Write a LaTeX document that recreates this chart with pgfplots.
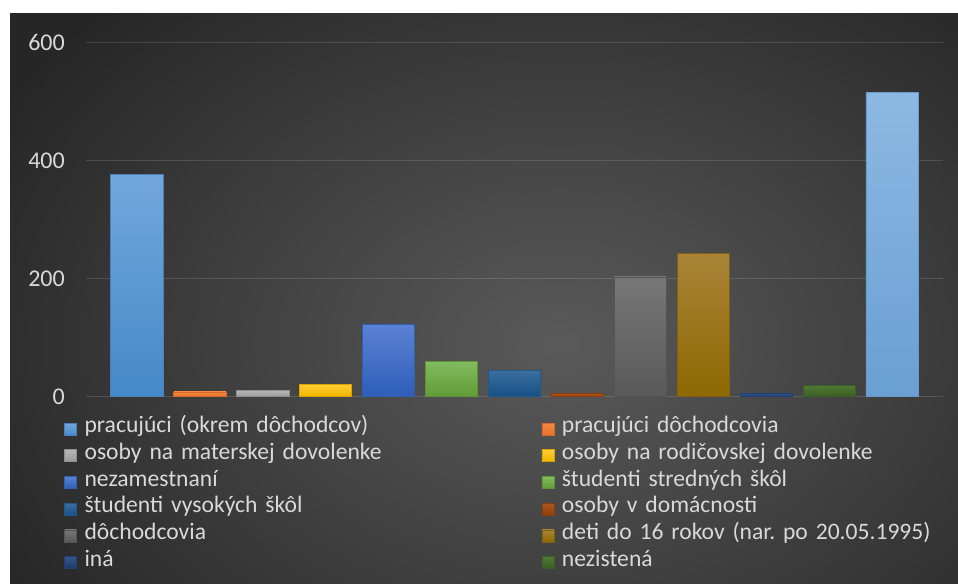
\documentclass[border=0pt]{standalone}
\usepackage{fontspec}
\setmainfont{Carlito}
\usepackage{pgfplots}
\pgfplotsset{compat=1.18}
\frenchspacing

\definecolor{txt}{HTML}{D9D9D9}
\definecolor{bgin}{HTML}{5A5A5A}
\definecolor{bgout}{HTML}{262626}

% top, bottom, border for each series
\definecolor{t1}{HTML}{72A7DC}\definecolor{b1}{HTML}{4589C8}\definecolor{d1}{HTML}{4A80B8}
\definecolor{t2}{HTML}{F3883F}\definecolor{b2}{HTML}{E5722A}\definecolor{d2}{HTML}{D8692A}
\definecolor{t3}{HTML}{B5B5B5}\definecolor{b3}{HTML}{999999}\definecolor{d3}{HTML}{8E8E8E}
\definecolor{t4}{HTML}{FFCC33}\definecolor{b4}{HTML}{F0B400}\definecolor{d4}{HTML}{D9A400}
\definecolor{t5}{HTML}{5A82D4}\definecolor{b5}{HTML}{2E5EB8}\definecolor{d5}{HTML}{3060B0}
\definecolor{t6}{HTML}{83BB5F}\definecolor{b6}{HTML}{5F9C35}\definecolor{d6}{HTML}{5E9436}
\definecolor{t7}{HTML}{3A6FA0}\definecolor{b7}{HTML}{174F85}\definecolor{d7}{HTML}{23588A}
\definecolor{t8}{HTML}{B05520}\definecolor{b8}{HTML}{8F3E08}\definecolor{d8}{HTML}{8A3E10}
\definecolor{t9}{HTML}{777777}\definecolor{b9}{HTML}{595959}\definecolor{d9}{HTML}{555555}
\definecolor{t10}{HTML}{AA8438}\definecolor{b10}{HTML}{8E6800}\definecolor{d10}{HTML}{7E6010}
\definecolor{t11}{HTML}{34558C}\definecolor{b11}{HTML}{1D3A6B}\definecolor{d11}{HTML}{22406F}
\definecolor{t12}{HTML}{4F7A34}\definecolor{b12}{HTML}{3A5C24}\definecolor{d12}{HTML}{3A5C28}
\definecolor{t13}{HTML}{8BB9E3}\definecolor{b13}{HTML}{6A9FD3}\definecolor{d13}{HTML}{6A98C8}

\pgfplotsset{
  bar/.style={ybar, bar shift=0pt, top color=t#1, bottom color=b#1, draw=d#1, line width=0.8bp},
}

\begin{document}
\begin{tikzpicture}
\useasboundingbox (0,0) rectangle (958bp,584bp);
\fill[white] (0,0) rectangle (958bp,584bp);
\begin{scope}
  \clip (10bp,0bp) rectangle (958bp,570bp);
  \shade[inner color=bgin, outer color=bgout] (-90bp,-230bp) rectangle (1210bp,710bp);
\end{scope}

\begin{axis}[
    at={(86bp,187.3bp)}, anchor=south west,
    scale only axis,
    width=857bp, height=354bp,
    xmin=0.19, xmax=13.81,
    ymin=0, ymax=600,
    ytick={0,200,400,600},
    xtick=\empty,
    axis line style={draw=none},
    major tick length=0pt,
    ymajorgrids,
    major grid style={draw=white, opacity=0.13, line width=1bp},
    bar width=0.83,
    /pgf/number format/assume math mode=true,
    yticklabel style={font=\fontsize{24bp}{28bp}\selectfont, text=txt, inner sep=0pt, xshift=-21bp},
    legend columns=2,
    legend cell align=left,
    legend image code/.code={
      \fill[#1] (0bp,-6bp) rectangle (12bp,6bp);
      \path[draw=none] (0bp,0bp) -- (20bp,0bp);
    },
    legend style={
      at={(axis description cs:-0.0257,-0.0534)}, anchor=north west,
      draw=none, fill=none, inner sep=0pt,
      font=\fontsize{23.6bp}{28bp}\selectfont, text=txt,
      column sep=0pt, row sep=0pt,
      nodes={text width=457bp, inner sep=0pt, text height=17bp, text depth=9.7bp, align=left},
    },
]
\addplot[bar=1] coordinates {(1,377)};
\addplot[bar=2] coordinates {(2,8)};
\addplot[bar=3] coordinates {(3,10)};
\addplot[bar=4] coordinates {(4,21)};
\addplot[bar=5] coordinates {(5,123)};
\addplot[bar=6] coordinates {(6,60)};
\addplot[bar=7] coordinates {(7,45)};
\addplot[bar=8] coordinates {(8,6)};
\addplot[bar=9] coordinates {(9,203)};
\addplot[bar=10] coordinates {(10,243)};
\addplot[bar=11] coordinates {(11,6)};
\addplot[bar=12] coordinates {(12,19)};
\addplot[bar=13, forget plot] coordinates {(13,516)};
\legend{pracujúci (okrem dôchodcov), pracujúci dôchodcovia,
  osoby na materskej dovolenke, osoby na rodičovskej dovolenke,
  nezamestnaní, študenti stredných škôl,
  študenti vysokých škôl, osoby v domácnosti,
  dôchodcovia, {deti do 16 rokov (nar. po 20.05.1995)},
  iná, nezistená}
\end{axis}
\end{tikzpicture}
\end{document}
